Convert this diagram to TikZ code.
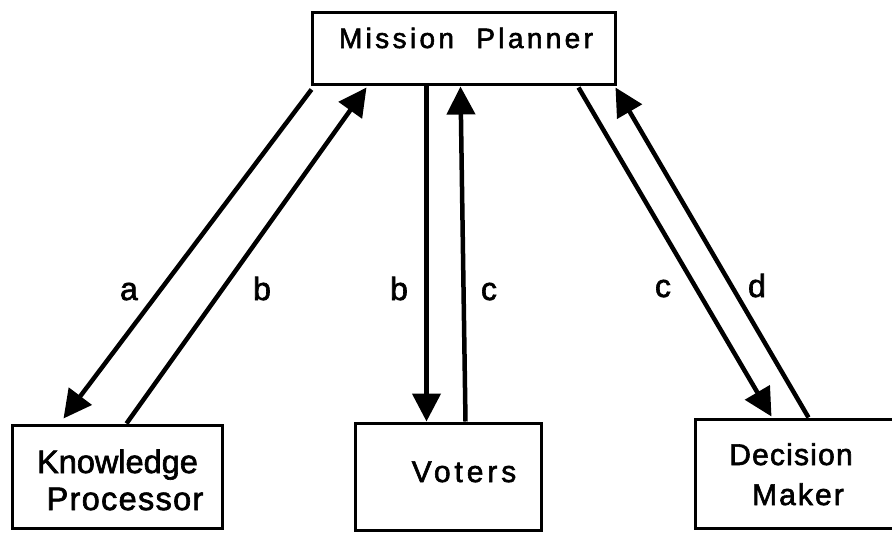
\documentclass[tikz,border=0pt]{standalone}
\usepackage{fontspec}
\setmainfont{Liberation Sans}
% heavy sans faces with different tracking
\newfontfamily\heavy[FakeBold=2]{Liberation Sans}
\newfontfamily\heavyt[FakeBold=2,LetterSpace=4]{Liberation Sans}
\newfontfamily\heavym[FakeBold=2,LetterSpace=7]{Liberation Sans}
\newfontfamily\heavyw[FakeBold=2,LetterSpace=12]{Liberation Sans}
\newfontfamily\heavyx[FakeBold=2,LetterSpace=13]{Liberation Sans}
\usetikzlibrary{arrows.meta,calc}

\begin{document}
\begin{tikzpicture}[x=1pt,y=-1pt,
  box/.style={draw, line width=3pt, inner sep=0pt},
  flow/.style={line width=4.5pt, -{Triangle[length=28pt,width=28pt]}},
  txt/.style={inner sep=0pt, anchor=base},
  lbl/.style={inner sep=0pt, anchor=base, font=\heavy\fontsize{32}{36}\selectfont}]
\useasboundingbox (0,0) rectangle (892,533);
\clip (0,0) rectangle (892,533);

% boxes
\node[box, minimum width=303pt, minimum height=72pt] (mp) at (463.5,48) {};
\node[box, minimum width=210pt, minimum height=103pt] (kp) at (117,476.5) {};
\node[box, minimum width=186pt, minimum height=107pt] (vo) at (448,476.5) {};
\node[box, minimum width=215pt, minimum height=109pt] (dm) at (802.5,473.5) {};

% box texts
\node[txt, font=\heavyw\fontsize{28}{32}\selectfont] (mpt) at (466,48) {Mission\ \ Planner};
\node[txt, font=\heavy\fontsize{32.5}{36}\selectfont] (kpt1) at (117.5,473) {Knowledge};
\node[txt, font=\heavyt\fontsize{32.5}{36}\selectfont] (kpt2) at (125,510) {Processor};
\node[txt, font=\heavyx\fontsize{30}{34}\selectfont] (vot) at (464,482) {Voters};
\node[txt, font=\heavyt\fontsize{30}{34}\selectfont] (dmt1) at (791,465) {Decision};
\node[txt, font=\heavym\fontsize{30}{34}\selectfont] (dmt2) at (798,505) {Maker};

% connector ends on the boxes
\coordinate (a0) at ($(mp.south west)+(1,4)$);
\coordinate (a1) at ($(kp.north west)+(53,-5)$);
\coordinate (b0) at ($(kp.north west)+(116,0)$);
\coordinate (b1) at ($(mp.south west)+(56,2)$);
\coordinate (m0) at ($(mp.south west)+(116,0)$);
\coordinate (m1) at ($(vo.north west)+(73,0)$);
\coordinate (n0) at ($(vo.north west)+(112,0)$);
\coordinate (n1) at ($(mp.south west)+(150,1)$);
\coordinate (c0) at ($(mp.south west)+(268,2)$);
\coordinate (c1) at ($(dm.north west)+(78,-1)$);
\coordinate (d0) at ($(dm.north west)+(115,0)$);
\coordinate (d1) at ($(mp.south west)+(305,2)$);

% flows
\draw[flow] (a0) -- (a1);
\draw[flow] (b0) -- (b1);
\draw[flow] (m0) -- (m1);
\draw[flow] (n0) -- (n1);
\draw[flow] (c0) -- (c1);
\draw[flow] (d0) -- (d1);

% flow labels
\node[lbl] (la) at (129,300) {a};
\node[lbl] (lb1) at (262,300) {b};
\node[lbl] (lb2) at (399,300) {b};
\node[lbl] (lc1) at (489,300) {c};
\node[lbl] (lc2) at (663,297) {c};
\node[lbl] (ld) at (757,297) {d};
\end{tikzpicture}
\end{document}
